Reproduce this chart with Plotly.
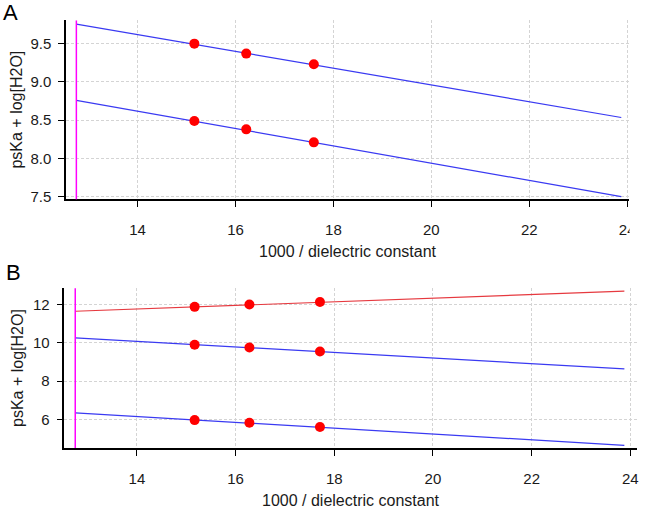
import plotly.graph_objects as go

W, H = 645, 517

# ---- Data ----
# Panel A
xA = [15.16, 16.22, 17.60]
yA_upper = [9.50, 9.37, 9.23]
yA_lower = [8.49, 8.38, 8.21]
fitA_x = [12.75, 23.88]
fitA_upper = [9.755, 8.535]
fitA_lower = [8.758, 7.50]

# Panel B
xB = [15.17, 16.28, 17.71]
yB_top = [11.88, 12.00, 12.13]
yB_mid = [9.90, 9.76, 9.55]
yB_low = [5.96, 5.82, 5.60]
fitB_x = [12.75, 23.88]
fitB_top = [11.65, 12.70]
fitB_mid = [10.26, 8.64]
fitB_low = [6.34, 4.64]

vline_x = 12.75

x_ticks = [14, 16, 18, 20, 22, 24]
yA_ticks = [7.5, 8.0, 8.5, 9.0, 9.5]
yB_ticks = [6, 8, 10, 12]

x_title = "1000 / dielectric constant"
y_title = "psKa + log[H2O]"

FONT = "Liberation Sans, Arial, sans-serif"
BLUE = "#3a3af2"
RED_LINE = "#e6393f"
DOT = "#ff0000"
GRID = "#d4d4d4"

fig = go.Figure()

def line(x, y, color, xa, ya):
    fig.add_trace(go.Scatter(x=x, y=y, mode="lines", line=dict(color=color, width=1.2),
                             xaxis=xa, yaxis=ya, showlegend=False, hoverinfo="skip"))

def dots(x, y, xa, ya):
    fig.add_trace(go.Scatter(x=x, y=y, mode="markers", marker=dict(color=DOT, size=10),
                             xaxis=xa, yaxis=ya, showlegend=False))

line(fitA_x, fitA_upper, BLUE, "x", "y")
line(fitA_x, fitA_lower, BLUE, "x", "y")
dots(xA, yA_upper, "x", "y")
dots(xA, yA_lower, "x", "y")

line(fitB_x, fitB_top, RED_LINE, "x2", "y2")
line(fitB_x, fitB_mid, BLUE, "x2", "y2")
line(fitB_x, fitB_low, BLUE, "x2", "y2")
dots(xB, yB_top, "x2", "y2")
dots(xB, yB_mid, "x2", "y2")
dots(xB, yB_low, "x2", "y2")

def px_x(p):
    return p / W

def px_y(p):
    return 1 - p / H

TICKFONT = dict(family=FONT, size=15, color="#1a1a1a")
common_x = dict(showline=True, linecolor="black", linewidth=1.5, ticks="outside", ticklen=6,
                tickwidth=1.2, tickcolor="black", showgrid=True, gridcolor=GRID, griddash="3px,2px",
                gridwidth=1, zeroline=False, tickvals=x_ticks,
                tickfont=TICKFONT, ticklabelstandoff=10)
common_y = dict(showline=True, linecolor="black", linewidth=1.5, ticks="outside", ticklen=6,
                tickwidth=1.2, tickcolor="black", showgrid=True, gridcolor=GRID, griddash="3px,2px",
                gridwidth=1, zeroline=False,
                tickfont=TICKFONT, ticklabelstandoff=4)

fig.update_layout(
    width=W, height=H,
    margin=dict(l=0, r=0, t=0, b=0),
    paper_bgcolor="white", plot_bgcolor="white",
    font=dict(family=FONT, color="#1a1a1a"),
    xaxis=dict(domain=[px_x(66.7), px_x(635)], range=[12.54, 24.04], anchor="y", **common_x),
    yaxis=dict(domain=[px_y(201.7), px_y(20.7)], range=[7.465, 9.803], anchor="x",
               tickvals=yA_ticks, tickformat=".1f", **common_y),
    xaxis2=dict(domain=[px_x(65), px_x(642.7)], range=[12.53, 24.13], anchor="y2", **common_x),
    yaxis2=dict(domain=[px_y(453.3), px_y(291.7)], range=[4.5, 12.85], anchor="x2",
                tickvals=yB_ticks, **common_y),
)

# magenta vertical lines
for xr, yr in (("x", "y domain"), ("x2", "y2 domain")):
    fig.add_shape(type="line", xref=xr, yref=yr, x0=vline_x, x1=vline_x, y0=0, y1=1,
                  line=dict(color="#ff00ff", width=1.5))

# clip of panel A at right edge
fig.add_shape(type="rect", xref="paper", yref="paper", x0=px_x(635.5), x1=1.0,
              y0=px_y(245), y1=px_y(205), fillcolor="white", line=dict(width=0), layer="above")

ann = []
for cx, cy in ((351, 254), (354, 506)):
    ann.append(dict(text=x_title, x=px_x(cx), y=px_y(cy), xref="paper", yref="paper",
                    showarrow=False, xanchor="center", yanchor="middle",
                    font=dict(family=FONT, size=16, color="#1a1a1a")))
for cx, cy in ((17, 111), (17, 372.5)):
    ann.append(dict(text=y_title, x=px_x(cx), y=px_y(cy), xref="paper", yref="paper",
                    showarrow=False, xanchor="center", yanchor="middle", textangle=-90,
                    font=dict(family=FONT, size=16, color="#1a1a1a")))
for lbl, cx, cy in (("A", 11, 13), ("B", 14, 276)):
    ann.append(dict(text=lbl, x=px_x(cx), y=px_y(cy), xref="paper", yref="paper",
                    showarrow=False, xanchor="center", yanchor="middle",
                    font=dict(family=FONT, size=22, color="black")))
fig.update_layout(annotations=ann)

fig.write_html("out.html", config={"displayModeBar": False},
               post_script="document.body.style.margin='0';")
